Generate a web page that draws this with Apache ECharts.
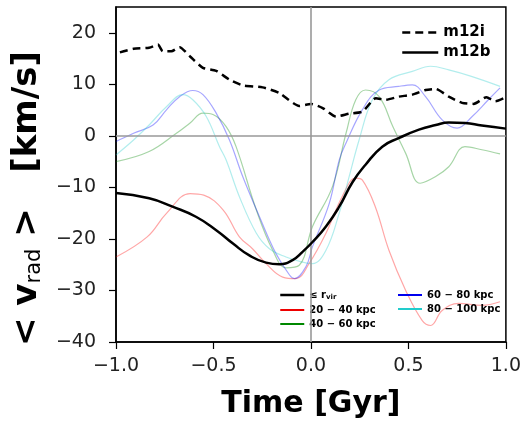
<!DOCTYPE html>
<html>
<head>
<meta charset="utf-8">
<script src="https://cdn.jsdelivr.net/npm/echarts@6/dist/echarts.min.js"></script>
<style>
  html, body { margin: 0; padding: 0; background: #fff; }
  #chart { width: 524px; height: 424px; }
</style>
</head>
<body>
<div id="chart"></div>
<script>
// time in Gyr, mean radial velocity in km/s
var timeM12i = [-0.98, -0.91, -0.83, -0.785, -0.76, -0.716, -0.674, -0.62, -0.554, -0.486, -0.418, -0.35, -0.248, -0.162, -0.06, 0, 0.06, 0.128, 0.196, 0.264, 0.333, 0.384, 0.45, 0.52, 0.588, 0.64, 0.707, 0.775, 0.835, 0.9, 0.946, 1.0];
var velM12i = [16.2, 16.9, 17.1, 17.7, 16.4, 16.4, 17.2, 15.4, 13.2, 12.6, 10.9, 9.8, 9.4, 8.3, 5.8, 6.2, 5.4, 3.75, 4.3, 4.7, 7.3, 7.0, 7.6, 8.0, 8.9, 9.1, 7.6, 6.4, 6.2, 7.5, 6.7, 7.5];

var timeRvir = [-1.0, -0.83, -0.71, -0.59, -0.486, -0.40, -0.316, -0.23, -0.162, -0.094, -0.043, 0.008, 0.077, 0.145, 0.213, 0.28, 0.366, 0.45, 0.554, 0.64, 0.707, 0.79, 0.877, 1.0];
var velRvir = [-11.1, -12.1, -13.75, -15.7, -18.3, -20.9, -23.2, -24.6, -24.9, -24.1, -22.5, -20.6, -17.6, -13.75, -9.0, -5.6, -2.1, -0.45, 1.2, 2.1, 2.6, 2.5, 2.0, 1.4];

var time2040 = [-1.0, -0.84, -0.74, -0.62, -0.55, -0.45, -0.367, -0.3, -0.23, -0.145, -0.077, -0.01, 0.077, 0.16, 0.23, 0.264, 0.33, 0.4, 0.486, 0.57, 0.614, 0.673, 0.758, 0.877, 0.97];
var vel2040 = [-23.5, -19.6, -15.0, -11.2, -11.5, -14.4, -19.6, -21.9, -24.8, -27.4, -27.7, -24.8, -18.9, -11.8, -8.2, -8.6, -13.75, -22.2, -30.0, -35.8, -36.8, -33.9, -32.5, -32.9, -32.2];

var time4060 = [-1.0, -0.83, -0.69, -0.62, -0.554, -0.50, -0.435, -0.384, -0.28, -0.196, -0.128, -0.06, 0.008, 0.11, 0.18, 0.23, 0.28, 0.35, 0.42, 0.486, 0.56, 0.64, 0.707, 0.79, 0.877, 0.97];
var vel4060 = [-5.0, -3.05, 0.5, 2.5, 4.4, 4.1, 1.8, -2.1, -14.4, -22.2, -25.6, -25.1, -17.6, -9.9, 0.5, 7.0, 8.9, 7.6, 1.8, -3.4, -9.2, -7.9, -6.0, -2.1, -2.7, -3.5];

var time6080 = [-1.0, -0.91, -0.81, -0.74, -0.674, -0.606, -0.554, -0.486, -0.418, -0.35, -0.264, -0.18, -0.11, -0.085, -0.026, 0.008, 0.094, 0.145, 0.18, 0.264, 0.35, 0.45, 0.52, 0.588, 0.673, 0.75, 0.827, 0.91, 0.97];
var vel6080 = [-1.1, 0.5, 2.1, 5.1, 7.6, 8.8, 8.0, 4.4, -0.8, -7.9, -15.7, -22.8, -27.0, -27.7, -25.4, -21.5, -13.1, -4.7, -1.4, 5.1, 8.9, 9.6, 9.9, 7.6, 3.1, 1.5, 3.75, 7.0, 9.3];

var time80100 = [-1.0, -0.91, -0.83, -0.74, -0.657, -0.606, -0.537, -0.469, -0.435, -0.367, -0.28, -0.213, -0.128, -0.043, 0.008, 0.077, 0.145, 0.196, 0.247, 0.315, 0.40, 0.52, 0.614, 0.707, 0.827, 0.97];
var vel80100 = [-3.7, -0.8, 2.1, 5.7, 8.0, 7.0, 3.75, -2.1, -4.7, -11.8, -18.9, -21.9, -23.5, -24.5, -24.8, -22.2, -15.0, -7.9, -0.8, 7.0, 10.9, 12.5, 13.5, 12.8, 11.5, 9.6];

var xTicks = [-1.0, -0.5, 0.0, 0.5, 1.0];
var yTicks = [-40, -30, -20, -10, 0, 10, 20];

function pairs(t, v) {
    return t.map(function (x, i) { return [x, v[i]]; });
}

function minus(s) {
    return String(s).replace('-', '\u2212');
}

var chart = echarts.init(document.getElementById('chart'));

var FONT = 'DejaVu Sans';
var DASH = [8, 5];

function thin(name, t, v, color) {
    return {
        name: name,
        type: 'line',
        data: pairs(t, v),
        symbol: 'none',
        smooth: 0.4,
        lineStyle: { color: color, width: 1.2, opacity: 0.35 },
        itemStyle: { color: color },
        z: 2
    };
}

// legend entry: plain line, no marker
function key(name, color, width, type) {
    return {
        name: name,
        lineStyle: { color: color, width: width, type: type || 'solid', opacity: 1 },
        itemStyle: { opacity: 0 }
    };
}

option = {
    backgroundColor: '#fff',
    animation: false,
    grid: {
        left: 116, right: 18, top: 7, bottom: 82,
        show: true, borderColor: '#000', borderWidth: 1.5
    },
    xAxis: {
        type: 'value',
        min: xTicks[0], max: xTicks[xTicks.length - 1], interval: 0.5,
        name: 'Time [Gyr]',
        nameLocation: 'middle',
        nameGap: 47,
        nameTextStyle: { fontFamily: FONT, fontWeight: 'bold', fontSize: 30, color: '#000' },
        axisLine: { show: true, onZero: false, lineStyle: { color: '#000', width: 1.5 } },
        axisTick: { show: true, inside: false, length: 7, lineStyle: { color: '#000', width: 1.2 } },
        axisLabel: {
            fontFamily: FONT, fontSize: 19, color: '#222', margin: 15,
            formatter: function (v) { return minus(v.toFixed(1)); }
        },
        splitLine: { show: false }
    },
    yAxis: {
        type: 'value',
        min: yTicks[0], max: 25, interval: 10,
        name: '< v{sub|rad} >   [km/s]',
        nameLocation: 'middle',
        nameGap: 71,
        nameRotate: 90,
        nameTextStyle: {
            fontFamily: FONT, fontWeight: 'bold', fontSize: 34, color: '#000',
            padding: [0, 48, 0, 0],
            rich: {
                sub: { fontFamily: FONT, fontWeight: 'normal', fontSize: 21, color: '#000', padding: [14, 0, 0, 0] }
            }
        },
        axisLine: { show: true, onZero: false, lineStyle: { color: '#000', width: 1.5 } },
        axisTick: { show: true, inside: false, length: 7, lineStyle: { color: '#000', width: 1.2 } },
        axisLabel: {
            fontFamily: FONT, fontSize: 19, color: '#222', margin: 20,
            showMaxLabel: false,
            formatter: function (v) { return minus(v); }
        },
        splitLine: { show: false }
    },
    legend: [
        {
            data: [key('m12i', '#000', 2.5, DASH), key('m12b', '#000', 2.5)],
            orient: 'vertical',
            left: 396, top: 20,
            itemWidth: 36, itemHeight: 10, itemGap: 5,
            textStyle: { fontFamily: FONT, fontWeight: 'bold', fontSize: 15, color: '#000' }
        },
        {
            data: [key('\u2264 rvir', '#000', 2.5), key('20 \u2212 40 kpc', '#e00', 2), key('40 \u2212 60 kpc', '#080', 2)],
            orient: 'vertical',
            left: 274, top: 285,
            itemWidth: 24, itemHeight: 10, itemGap: 4,
            formatter: function (n) { return n === '\u2264 rvir' ? '\u2264 r{sub|vir}' : n; },
            textStyle: {
                fontFamily: FONT, fontWeight: 'bold', fontSize: 10, color: '#000',
                rich: { sub: { fontFamily: FONT, fontWeight: 'bold', fontSize: 7, padding: [5, 0, 0, 0] } }
            }
        },
        {
            data: [key('60 \u2212 80 kpc', '#00e', 2), key('80 \u2212 100 kpc', '#2cc', 2)],
            orient: 'vertical',
            left: 392, top: 285,
            itemWidth: 24, itemHeight: 10, itemGap: 4,
            textStyle: { fontFamily: FONT, fontWeight: 'bold', fontSize: 10, color: '#000' }
        }
    ],
    series: [
        {
            name: 'ref',
            type: 'line',
            data: [],
            markLine: {
                silent: true,
                symbol: 'none',
                label: { show: false },
                lineStyle: { color: '#999', width: 1.6, type: 'solid' },
                data: [{ xAxis: 0 }, { yAxis: 0 }]
            },
            z: 1
        },
        thin('20 \u2212 40 kpc', time2040, vel2040, '#f00'),
        thin('40 \u2212 60 kpc', time4060, vel4060, '#080'),
        thin('60 \u2212 80 kpc', time6080, vel6080, '#00f'),
        thin('80 \u2212 100 kpc', time80100, vel80100, '#2cc'),
        {
            name: 'm12i',
            type: 'line',
            data: pairs(timeM12i, velM12i),
            symbol: 'none',
            smooth: 0.2,
            lineStyle: { color: '#000', width: 2.5, type: DASH },
            itemStyle: { color: '#000' },
            z: 4
        },
        {
            name: '\u2264 rvir',
            type: 'line',
            data: pairs(timeRvir, velRvir),
            symbol: 'none',
            smooth: 0.5,
            lineStyle: { color: '#000', width: 2.5 },
            itemStyle: { color: '#000' },
            z: 5
        },
        {
            name: 'm12b',
            type: 'line',
            data: [],
            symbol: 'none',
            lineStyle: { color: '#000', width: 2.5 },
            itemStyle: { color: '#000' }
        }
    ]
};

chart.setOption(option);
</script>
</body>
</html>
